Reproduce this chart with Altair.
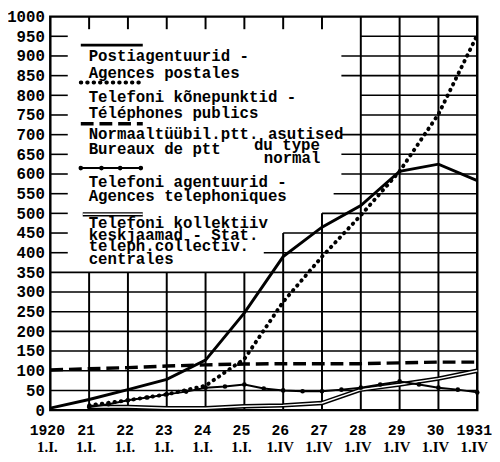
import altair as alt
import pandas as pd

# ---------------- data ----------------
years = [1920, 1921, 1922, 1923, 1924, 1925, 1926, 1927, 1928, 1929, 1930, 1931]
post_agencies = [5, 27, 52, 78, 127, 247, 390, 465, 520, 607, 625, 583]          # Postiagentuurid

kone_years = [1921, 1922, 1923, 1924, 1925, 1926, 1927, 1928, 1929, 1930, 1931]
public_phones = [12, 25, 40, 62, 130, 275, 390, 495, 607, 752, 953]               # Telefoni kõnepunktid

normal_offices = [102, 105, 108, 112, 115, 117, 118, 118, 118, 120, 122, 122]     # Normaaltüübil ptt asutised

agent_years = [1921, 1921.5, 1922, 1922.5, 1923, 1923.5, 1924, 1924.5, 1925, 1925.5, 1926,
               1926.5, 1927, 1927.5, 1928, 1928.5, 1929, 1929.5, 1930, 1930.5, 1931]
phone_agencies = [8, 15, 25, 32, 40, 47, 57, 60, 65, 55, 50,
                  48, 48, 52, 57, 65, 73, 65, 57, 52, 45]                          # Telefoni agentuurid

koll_years = [1921, 1922, 1923, 1924, 1925, 1926, 1927, 1928, 1929, 1930, 1931]
collective = [8, 8, 5, 5, 10, 12, 18, 52, 65, 80, 100]                             # kollektiiv keskjaamad

x_top_labels = ["1920", "21", "22", "23", "24", "25", "26", "27", "28", "29", "30", "1931"]
x_bottom_labels = ["1.I.", "1.I.", "1.I.", "1.I.", "1.I.", "1.I.", "1.IV", "1.IV", "1.IV", "1.IV", "1.IV", "1.IV"]

# grid layout (hand-drawn grid with the legend area left open)
h_full = [50, 100, 150, 200, 250, 300, 350]
h_part = [400, 450, 500, 550, 600, 650, 700, 750, 800, 850, 900, 950]
h_part_start = [1925.5, 1926, 1927, 1927.3, 1927.5, 1927.5, 1927.5, 1928, 1928, 1927.5, 1927.5, 1928]
v_lines = [1921, 1922, 1923, 1924, 1925, 1926, 1927, 1928, 1929, 1930]
v_top = [350, 350, 350, 350, 350, 450, 500, 1000, 1000, 1000]

legend_lines = ["Postiagentuurid -", "Agences postales",
                "Telefoni kõnepunktid -", "Téléphones publics",
                "Normaaltüübil.ptt. asutised", "Bureaux de ptt", "du type", "normal",
                "Telefoni agentuurid -", "Agences telephoniques",
                "Telefoni kollektiiv", "keskjaamad - Stat.", "teleph.collectiv.", "centrales"]
legend_pos = [(39, 40), (39, 57), (39, 82), (39, 98), (39, 119), (39, 135), (207, 131), (217, 144),
              (39, 168), (39, 182), (39, 210), (39, 222), (39, 233), (39, 246)]

FONT = "Liberation Mono"
W, H = 434, 400

xs = alt.Scale(domain=[1920, 1931], nice=False, zero=False)
ys = alt.Scale(domain=[0, 1000], nice=False)
yaxis = alt.Axis(values=list(range(0, 1001, 50)), format="d", labelOverlap=False, labelBound=False,
                 labelFlush=False, domain=False, ticks=False, grid=False,
                 labelFont=FONT, labelFontSize=16, labelFontWeight="bold", labelColor="black",
                 labelPadding=6, title=None)


def X(f):
    return alt.X(f, type="quantitative", scale=xs, axis=None)


def Y(f):
    return alt.Y(f, type="quantitative", scale=ys, axis=yaxis)


# grid tables
hgrid = pd.DataFrame({"y": h_full + h_part,
                      "x0": [1920] * len(h_full) + h_part_start,
                      "x1": [1931] * (len(h_full) + len(h_part))})
lticks = pd.DataFrame({"y": h_part, "x0": [1920] * len(h_part), "x1": [1920.45] * len(h_part)})
vgrid = pd.DataFrame({"x": v_lines, "y0": [0] * len(v_lines), "y1": v_top})
tticks = pd.DataFrame({"x": v_lines[:7], "y0": [968] * 7, "y1": [1000] * 7})

h_layer = alt.Chart(hgrid).mark_rule(color="black", strokeWidth=1.6).encode(x=X("x0"), x2=alt.X2("x1"), y=Y("y"))
lt_layer = alt.Chart(lticks).mark_rule(color="black", strokeWidth=1.6).encode(x=X("x0"), x2=alt.X2("x1"), y=Y("y"))
v_layer = alt.Chart(vgrid).mark_rule(color="black", strokeWidth=2).encode(x=X("x"), y=Y("y0"), y2=alt.Y2("y1"))
tt_layer = alt.Chart(tticks).mark_rule(color="black", strokeWidth=2).encode(x=X("x"), y=Y("y0"), y2=alt.Y2("y1"))

df_post = pd.DataFrame({"year": years, "v": post_agencies})
df_kone = pd.DataFrame({"year": kone_years, "v": public_phones})
df_norm = pd.DataFrame({"year": years, "v": normal_offices})
df_agent = pd.DataFrame({"year": agent_years, "v": phone_agencies})
df_koll = pd.DataFrame({"year": koll_years, "v": collective})
df_lab = pd.DataFrame({"year": years, "top": x_top_labels, "lab": x_bottom_labels})

post_layer = alt.Chart(df_post).mark_line(color="black", strokeWidth=3).encode(x=X("year"), y=Y("v"))
kone_layer = alt.Chart(df_kone).mark_line(color="black", strokeWidth=4, strokeDash=[0.5, 6],
                                          strokeCap="round").encode(x=X("year"), y=Y("v"))
norm_layer = alt.Chart(df_norm).mark_line(color="black", strokeWidth=3.5, strokeDash=[13, 6]).encode(x=X("year"), y=Y("v"))
agent_line = alt.Chart(df_agent).mark_line(color="black", strokeWidth=2).encode(x=X("year"), y=Y("v"))
agent_pts = alt.Chart(df_agent).mark_circle(color="black", size=22, opacity=1).encode(x=X("year"), y=Y("v"))
koll_outer = alt.Chart(df_koll).mark_line(color="black", strokeWidth=4.5).encode(x=X("year"), y=Y("v"))
koll_inner = alt.Chart(df_koll).mark_line(color="white", strokeWidth=1.5).encode(x=X("year"), y=Y("v"))

# x labels: year row and date row
lab1 = alt.Chart(df_lab).mark_text(font=FONT, fontSize=15, fontWeight="bold", color="black",
                                   baseline="middle", align="center", dx=-3).encode(
    x=X("year"), y=alt.value(H + 20), text="top:N")
lab2 = alt.Chart(df_lab).mark_text(font="Liberation Serif", fontSize=15, fontWeight="bold", color="black",
                                   baseline="middle", align="center", dx=-3).encode(
    x=X("year"), y=alt.value(H + 38), text="lab:N")

# ---------------- legend (drawn inside the plot area) ----------------
one = pd.DataFrame({"k": [0]})
leg = []
sx0, sx1 = 31, 94
leg.append(alt.Chart(one).mark_rule(color="black", strokeWidth=3).encode(
    x=alt.value(sx0), x2=alt.value(sx1), y=alt.value(29)))
leg.append(alt.Chart(one).mark_rule(color="black", strokeWidth=4, strokeDash=[0.5, 6], strokeCap="round").encode(
    x=alt.value(sx0), x2=alt.value(sx1 - 2), y=alt.value(67)))
leg.append(alt.Chart(one).mark_rule(color="black", strokeWidth=3.5, strokeDash=[13, 6]).encode(
    x=alt.value(sx0), x2=alt.value(sx1), y=alt.value(109)))
leg.append(alt.Chart(one).mark_rule(color="black", strokeWidth=2).encode(
    x=alt.value(sx0 - 1), x2=alt.value(sx1), y=alt.value(154)))
for px in [31, 52, 71, 92]:
    leg.append(alt.Chart(one).mark_circle(color="black", size=22, opacity=1).encode(
        x=alt.value(px), y=alt.value(154)))
leg.append(alt.Chart(one).mark_rule(color="black", strokeWidth=4.5).encode(
    x=alt.value(sx0 + 2), x2=alt.value(sx1), y=alt.value(201)))
leg.append(alt.Chart(one).mark_rule(color="white", strokeWidth=1.5).encode(
    x=alt.value(sx0 + 2), x2=alt.value(sx1), y=alt.value(201)))
for txt, (px, py) in zip(legend_lines, legend_pos):
    leg.append(alt.Chart(one).mark_text(text=txt, align="left", baseline="middle", font=FONT,
                                        fontSize=16, fontWeight="bold", color="black").encode(
        x=alt.value(px), y=alt.value(py)))

chart = alt.layer(
    h_layer, lt_layer, v_layer, tt_layer,
    norm_layer, koll_outer, koll_inner, agent_line, agent_pts, kone_layer, post_layer,
    lab1, lab2, *leg
).properties(
    width=W, height=H,
    padding={"left": 43, "top": 5, "right": 15, "bottom": 49},
    autosize=alt.AutoSizeParams(type="none"),
    background="white",
).configure_view(stroke="black", strokeWidth=2.5)

chart.save("out.html", embed_options={"renderer": "svg", "actions": False})
